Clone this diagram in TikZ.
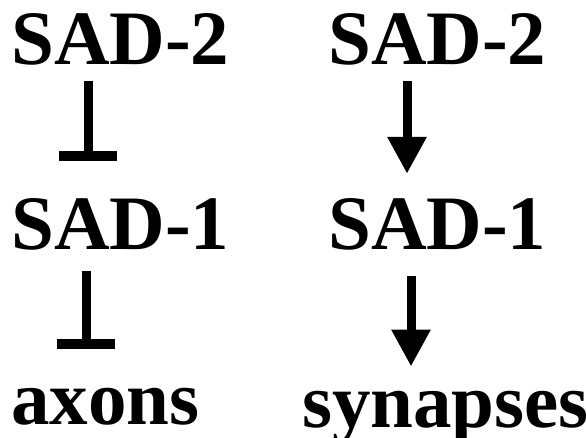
\documentclass[tikz,border=0pt]{standalone}
\usepackage{fontspec}
\setmainfont{Liberation Serif}
\usetikzlibrary{positioning, arrows.meta}

\begin{document}
\begin{tikzpicture}[x=1pt, y=1pt,
		gene/.style={inner sep=0pt, anchor=base west, font=\bfseries\fontsize{77}{80}\selectfont},
		inhibit/.style={line width=9pt, -{Bar[width=58pt, line width=10pt]}},
		activate/.style={line width=9pt, -{Triangle[width=37pt, length=37pt]}}]
		\useasboundingbox (0,0) rectangle (586,-438);
		% inhibition branch
		\node[gene] (sad2l) at (11,-65) {SAD-2};
		\node[gene] (sad1l) at (11,-250) {SAD-1};
		\node[gene] (axons) at (11,-424) {axons};
		% activation branch
		\node[gene] (sad2r) at (328,-65) {SAD-2};
		\node[gene] (sad1r) at (328,-250) {SAD-1};
		\node[gene] (syn) at (302,-427) {synapses};
		\path[inhibit]
		([xshift=77pt]sad2l.south west) edge[shorten <=15pt, shorten >=38pt] ([xshift=77pt]sad1l.north west)
		([xshift=75pt]sad1l.south west) edge[shorten <=20pt, shorten >=39pt] ([xshift=75pt]sad1l.south west |- axons.north);
		\path[activate]
		([xshift=79pt]sad2r.south west) edge[shorten <=15pt, shorten >=25pt] ([xshift=79pt]sad1r.north west)
		([xshift=83pt]sad1r.south west) edge[shorten <=25pt, shorten >=24pt] ([xshift=83pt]sad1r.south west |- syn.north);
	\end{tikzpicture}
\end{document}
